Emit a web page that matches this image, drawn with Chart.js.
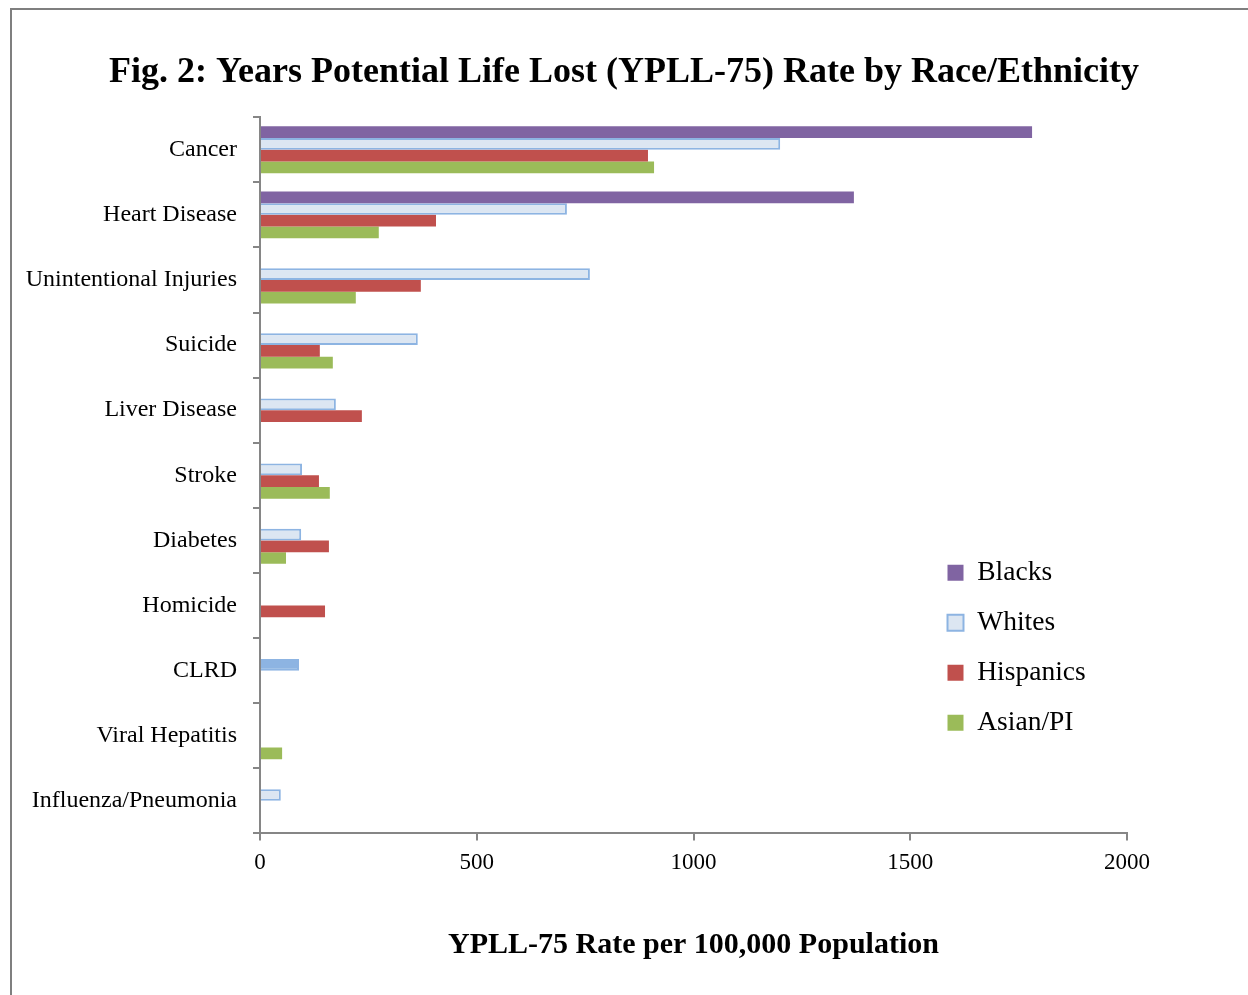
<!DOCTYPE html>
<html>
<head>
<meta charset="utf-8">
<script src="https://cdn.jsdelivr.net/npm/chart.js@4"></script>
<style>
  html, body { margin: 0; padding: 0; background: #fff; }
  #wrap { position: relative; width: 1248px; height: 995px; overflow: hidden; }
  #frame { position: absolute; left: 10px; top: 8px; width: 1300px; height: 1100px;
           border-left: 2px solid #7f7f7f; border-top: 2px solid #7f7f7f; }
  canvas { position: absolute; left: 0; top: 0; }
</style>
</head>
<body>
<div id="wrap">
  <div id="frame"></div>
  <canvas id="yll" width="1248" height="995"></canvas>
</div>
<script>
const causes = ["Cancer", "Heart Disease", "Unintentional Injuries", "Suicide", "Liver Disease",
  "Stroke", "Diabetes", "Homicide", "CLRD", "Viral Hepatitis", "Influenza/Pneumonia"];

const blacks    = [1781, 1370, null, null, null, null, null, null, null, null, null];
const whites    = [1200, 708, 761, 364, 175, 97, 95, null, 90, null, 48];
const hispanics = [895, 406, 371, 138, 235, 136, 159, 150, null, null, null];
const asianPI   = [909, 274, 221, 168, null, 161, 60, null, null, 51, null];

const xTicks = [0, 500, 1000, 1500, 2000];

const serif = "'Liberation Serif', 'DejaVu Serif', serif";
const axisGray = "#868686";

// CLRD bar is drawn solid in the original
const whitesFill = ctx => (ctx.dataIndex !== undefined && causes[ctx.dataIndex] === "CLRD") ? "#8DB4E2" : "#DCE6F2";

// title centred on the whole page, legend moved into the plot area
const placeBoxes = {
  id: "placeBoxes",
  afterLayout(chart) {
    const t = chart.titleBlock;
    if (t) { t.left = 0; t.right = chart.width; t.width = chart.width; }
    const lg = chart.legend;
    const w = lg.width, h = lg.height;
    lg.left = 925; lg.right = 925 + w;
    lg.top = 536.5; lg.bottom = 536.5 + h;
  }
};

const data = {
  labels: causes,
  datasets: [
    { label: "Blacks", data: blacks, backgroundColor: "#8064A2", borderWidth: 0 },
    { label: "Whites", data: whites, backgroundColor: whitesFill, borderColor: "#8DB4E2", borderWidth: 2 },
    { label: "Hispanics", data: hispanics, backgroundColor: "#C0504D", borderWidth: 0 },
    { label: "Asian/PI", data: asianPI, backgroundColor: "#9BBB59", borderWidth: 0 },
  ],
};

const config = {
  type: "bar",
  data: data,
  options: {
    indexAxis: "y",
    responsive: false,
    animation: false,
    categoryPercentage: 0.72,
    barPercentage: 1.0,
    layout: { padding: { left: 0, right: 121, top: 0, bottom: 32 } },
    plugins: {
      title: {
        display: true,
        text: "Fig. 2: Years Potential Life Lost (YPLL-75) Rate by Race/Ethnicity",
        color: "#000",
        font: { family: serif, size: 36, weight: "bold" },
        padding: { top: 51, bottom: 23 },
      },
      legend: {
        position: "chartArea",
        align: "start",
        labels: {
          color: "#000",
          font: { family: serif, size: 27.5 },
          boxWidth: 16,
          boxHeight: 16,
          padding: 22.5,
        },
      },
      tooltip: { enabled: false },
    },
    scales: {
      x: {
        min: 0,
        max: 2000,
        afterBuildTicks: scale => { scale.ticks = xTicks.map(v => ({ value: v })); },
        grid: { drawOnChartArea: false, drawTicks: true, tickLength: 7, color: axisGray, lineWidth: 2 },
        border: { color: axisGray, width: 2 },
        ticks: {
          color: "#000",
          font: { family: serif, size: 23 },
          padding: 9,
          maxRotation: 0,
          callback: v => String(v),
        },
        title: {
          display: true,
          text: "YPLL-75 Rate per 100,000 Population",
          color: "#000",
          font: { family: serif, size: 30, weight: "bold" },
          padding: { top: 41, bottom: 0 },
        },
      },
      y: {
        afterFit: scale => { scale.width = 260; },
        grid: { offset: true, drawOnChartArea: false, drawTicks: true, tickLength: 7, color: axisGray, lineWidth: 2 },
        border: { color: axisGray, width: 2 },
        ticks: { color: "#000", font: { family: serif, size: 24 }, padding: 16 },
      },
    },
  },
  plugins: [placeBoxes],
};

const canvas = document.getElementById("yll");
const chart = new Chart(canvas, config);
</script>
</body>
</html>
